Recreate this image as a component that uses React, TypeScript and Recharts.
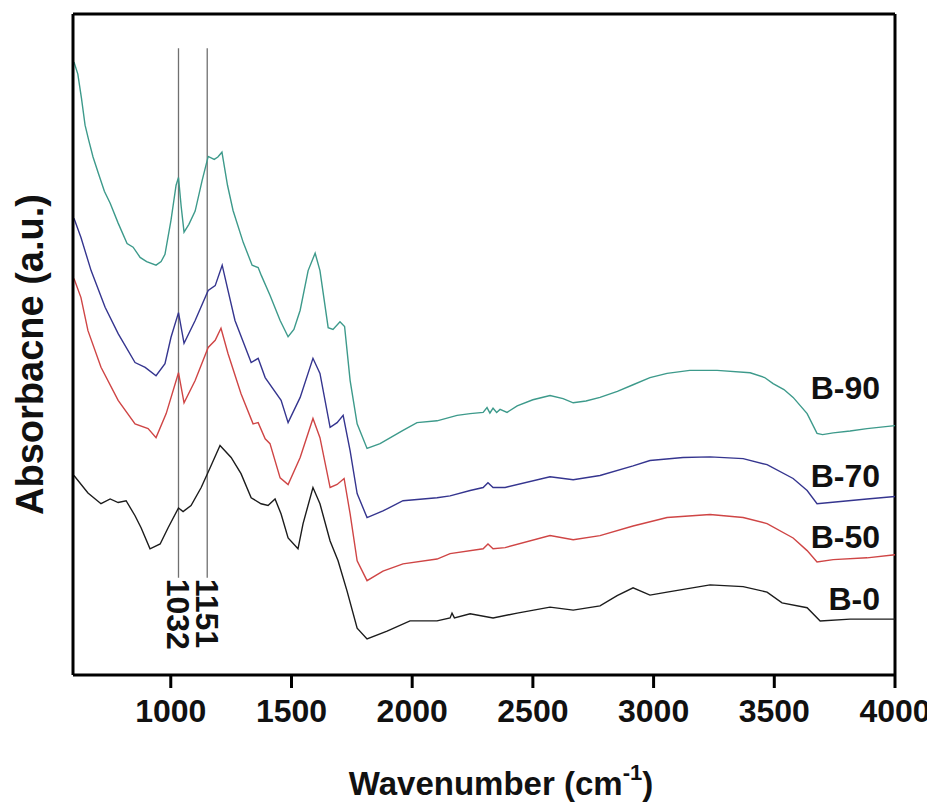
import { Line, LineChart, ReferenceDot, ReferenceLine, XAxis, YAxis } from "recharts"

// FTIR spectra (wavenumber in cm-1, absorbance in a.u.)
const b90Wavenumber = [
  599, 615, 630, 645, 660, 678, 700, 725, 749, 782,
  819, 844, 873, 900, 939, 960, 976, 1001, 1022, 1032,
  1043, 1055, 1075, 1101, 1130, 1155, 1180, 1195, 1212, 1235,
  1258, 1300, 1337, 1362, 1375, 1411, 1453, 1486, 1510, 1536,
  1569, 1598, 1618, 1652, 1672, 1701, 1720, 1743, 1772, 1813,
  1867, 1962, 2020, 2103, 2186, 2240, 2294, 2310, 2322, 2335,
  2350, 2364, 2393, 2435, 2500, 2571, 2625, 2667, 2720, 2778,
  2850, 2915, 2985, 3056, 3150, 3263, 3400, 3460, 3495, 3540,
  3578, 3636, 3677, 3700, 3744, 3814, 3884, 4000,
]
const b90Absorbance = [
  1.02, 1.0, 0.96, 0.915, 0.89, 0.862, 0.835, 0.805, 0.785, 0.752,
  0.718, 0.712, 0.695, 0.688, 0.682, 0.688, 0.7, 0.757, 0.815, 0.828,
  0.78, 0.737, 0.75, 0.772, 0.823, 0.863, 0.858, 0.862, 0.87, 0.815,
  0.773, 0.72, 0.682, 0.678, 0.665, 0.632, 0.59, 0.563, 0.575, 0.607,
  0.673, 0.702, 0.673, 0.578, 0.575, 0.588, 0.58, 0.49, 0.418, 0.377,
  0.385, 0.407, 0.42, 0.423, 0.432, 0.435, 0.437, 0.445, 0.436, 0.444,
  0.437, 0.442, 0.437, 0.448, 0.458, 0.465, 0.46, 0.453, 0.456, 0.462,
  0.472, 0.483, 0.495, 0.502, 0.507, 0.507, 0.503, 0.495, 0.485, 0.475,
  0.462, 0.435, 0.402, 0.4, 0.403, 0.406, 0.41, 0.415,
]

const b70Wavenumber = [
  599, 628, 670, 728, 782, 852, 894, 939, 976, 1001,
  1032, 1055, 1101, 1155, 1184, 1213, 1237, 1266, 1333, 1362,
  1391, 1457, 1486, 1536, 1589, 1618, 1660, 1689, 1714, 1743,
  1772, 1813, 1879, 1962, 2103, 2157, 2240, 2294, 2314, 2335,
  2385, 2571, 2667, 2778, 2915, 2985, 3122, 3234, 3371, 3470,
  3578, 3636, 3677, 3731, 3884, 4000,
]
const b70Absorbance = [
  0.76, 0.728, 0.673, 0.612, 0.568, 0.52, 0.512, 0.498, 0.518, 0.562,
  0.603, 0.552, 0.59, 0.64, 0.648, 0.682, 0.64, 0.59, 0.52, 0.527,
  0.495, 0.457, 0.42, 0.462, 0.527, 0.502, 0.412, 0.42, 0.432, 0.373,
  0.302, 0.262, 0.273, 0.29, 0.295, 0.298, 0.307, 0.312, 0.32, 0.312,
  0.312, 0.33, 0.325, 0.332, 0.348, 0.357, 0.362, 0.363, 0.36, 0.35,
  0.327, 0.307, 0.285, 0.287, 0.293, 0.297,
]

const b50Wavenumber = [
  599, 628, 657, 711, 782, 852, 906, 939, 981, 1032,
  1055, 1101, 1155, 1184, 1208, 1237, 1291, 1341, 1362, 1391,
  1411, 1453, 1486, 1536, 1589, 1618, 1660, 1689, 1718, 1743,
  1772, 1813, 1879, 1962, 2103, 2157, 2294, 2314, 2335, 2385,
  2571, 2667, 2778, 2915, 3056, 3234, 3371, 3470, 3578, 3636,
  3677, 3744, 3884, 4000,
]
const b50Absorbance = [
  0.66, 0.628, 0.573, 0.512, 0.457, 0.418, 0.41, 0.395, 0.435, 0.503,
  0.453, 0.49, 0.545, 0.557, 0.577, 0.535, 0.468, 0.418, 0.42, 0.393,
  0.385, 0.328, 0.317, 0.362, 0.427, 0.395, 0.312, 0.317, 0.327, 0.268,
  0.19, 0.157, 0.173, 0.185, 0.193, 0.202, 0.21, 0.218, 0.21, 0.212,
  0.232, 0.225, 0.232, 0.248, 0.262, 0.267, 0.262, 0.252, 0.228, 0.207,
  0.188, 0.192, 0.195, 0.2,
]

const b0Wavenumber = [
  599, 657, 711, 749, 782, 815, 852, 877, 914, 956,
  989, 1032, 1051, 1084, 1126, 1163, 1204, 1250, 1291, 1333,
  1374, 1403, 1432, 1457, 1486, 1527, 1548, 1589, 1618, 1660,
  1693, 1730, 1772, 1813, 1896, 1991, 2103, 2157, 2165, 2175,
  2240, 2335, 2435, 2571, 2667, 2778, 2849, 2915, 2985, 3056,
  3234, 3371, 3470, 3532, 3636, 3690, 3814, 4000,
]
const b0Absorbance = [
  0.332, 0.303, 0.285, 0.293, 0.287, 0.29, 0.265, 0.245, 0.21, 0.218,
  0.245, 0.278, 0.272, 0.282, 0.312, 0.345, 0.382, 0.362, 0.335, 0.295,
  0.285, 0.282, 0.293, 0.268, 0.228, 0.21, 0.252, 0.312, 0.285, 0.223,
  0.19, 0.14, 0.078, 0.06, 0.073, 0.09, 0.09, 0.095, 0.103, 0.095,
  0.102, 0.095, 0.103, 0.113, 0.108, 0.115, 0.132, 0.145, 0.133, 0.138,
  0.15, 0.147, 0.138, 0.12, 0.112, 0.09, 0.093, 0.093,
]

const xTicks = [1000, 1500, 2000, 2500, 3000, 3500, 4000]
const peakPositions = [1032, 1151]

// where the sample names sit, next to the right end of each trace
const nameLabels = [
  { name: "B-90", wn: 3938, abs: 0.478 },
  { name: "B-70", wn: 3938, abs: 0.332 },
  { name: "B-50", wn: 3938, abs: 0.23 },
  { name: "B-0", wn: 3938, abs: 0.127 },
]

const FONT = "'Liberation Sans', Arial, Helvetica, sans-serif"

const toPoints = (wn: number[], abs: number[]) => wn.map((w, i) => ({ wn: w, abs: abs[i] }))

const series = [
  { key: "B-90", color: "#3d9a8b", data: toPoints(b90Wavenumber, b90Absorbance) },
  { key: "B-70", color: "#35358f", data: toPoints(b70Wavenumber, b70Absorbance) },
  { key: "B-50", color: "#cf4545", data: toPoints(b50Wavenumber, b50Absorbance) },
  { key: "B-0", color: "#1c1c1c", data: toPoints(b0Wavenumber, b0Absorbance) },
]

function NameLabel(props: any) {
  const { viewBox, text } = props
  return (
    <text x={viewBox.x} y={viewBox.y} dy="0.36em" textAnchor="end" fontFamily={FONT} fontWeight="bold" fontSize={32} fill="#111">
      {text}
    </text>
  )
}

function PeakLabel(props: any) {
  const { viewBox, text } = props
  const x = viewBox.x - 11
  const y = viewBox.y + 1
  return (
    <text transform={`translate(${x}, ${y}) rotate(90)`} textAnchor="start" fontFamily={FONT} fontWeight="bold" fontSize={32} fill="#111">
      {text}
    </text>
  )
}

function XTitle(props: any) {
  const { viewBox } = props
  return (
    <text x={viewBox.x + viewBox.width / 2 + 17} y={viewBox.y + 120} textAnchor="middle" fontFamily={FONT} fontWeight="bold" fontSize={33} fill="#111">
      <tspan>Wavenumber (cm</tspan>
      <tspan dy={-15} fontSize={22}>-1</tspan>
      <tspan dy={15}>)</tspan>
    </text>
  )
}

function YTitle(props: any) {
  const { viewBox } = props
  const x = viewBox.x + 35
  const y = viewBox.y + viewBox.height / 2 + 10
  return (
    <text transform={`translate(${x}, ${y}) rotate(-90)`} textAnchor="middle" fontFamily={FONT} fontWeight="bold" fontSize={38} fill="#111">
      Absorbacne (a.u.)
    </text>
  )
}

export default function App() {
  return (
    <LineChart width={927} height={795} margin={{ top: 6, right: 40, left: 0, bottom: 0 }}>
      <XAxis
        dataKey="wn"
        type="number"
        domain={[595, 4000]}
        ticks={xTicks}
        interval={0}
        allowDataOverflow
        height={128}
        tickSize={13}
        tickMargin={11}
        axisLine={{ stroke: "#000", strokeWidth: 3 }}
        tickLine={{ stroke: "#000", strokeWidth: 3 }}
        tick={{ fill: "#111", fontSize: 32, fontWeight: "bold", fontFamily: FONT }}
        label={<XTitle />}
      />
      <YAxis
        type="number"
        domain={[0, 1.1]}
        width={65}
        tick={false}
        tickLine={false}
        axisLine={{ stroke: "#000", strokeWidth: 3 }}
        label={<YTitle />}
      />
      <ReferenceLine y={1.1} stroke="#000" strokeWidth={3} />
      <ReferenceLine x={4000} stroke="#000" strokeWidth={3} />
      {peakPositions.map((p) => (
        <ReferenceLine
          key={`peak-${p}`}
          segment={[
            { x: p, y: 0.162 },
            { x: p, y: 1.043 },
          ]}
          stroke="#707070"
          strokeWidth={1.3}
        />
      ))}
      {series.map((s) => (
        <Line
          key={s.key}
          data={s.data}
          dataKey="abs"
          type="linear"
          stroke={s.color}
          strokeWidth={1.4}
          dot={false}
          isAnimationActive={false}
        />
      ))}
      {peakPositions.map((p) => (
        <ReferenceDot key={`pl-${p}`} x={p} y={0.162} r={0} fill="none" stroke="none" label={<PeakLabel text={String(p)} />} />
      ))}
      {nameLabels.map((l) => (
        <ReferenceDot key={`nl-${l.name}`} x={l.wn} y={l.abs} r={0} fill="none" stroke="none" label={<NameLabel text={l.name} />} />
      ))}
    </LineChart>
  )
}
